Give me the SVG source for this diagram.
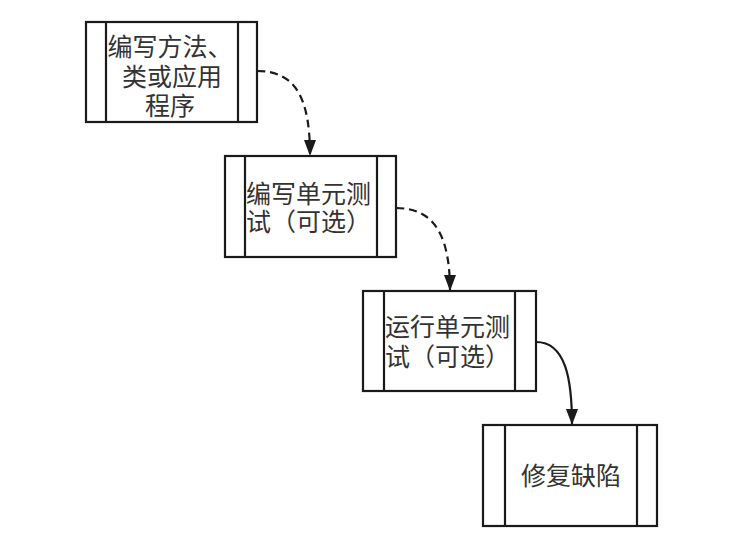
<svg xmlns="http://www.w3.org/2000/svg" width="730" height="544" viewBox="0 0 730 544">
<style>
.box{fill:#fff;stroke:#1a1a1a;stroke-width:2.2}
.bar{stroke:#1a1a1a;stroke-width:2.2}
.t{font-family:"Liberation Sans","Noto Sans CJK SC",sans-serif;font-size:25px;fill:#333}
.c{fill:none;stroke:#1a1a1a;stroke-width:2.2}
.d{stroke-dasharray:8 5}
</style>
<defs>
<marker id="a" viewBox="0 0 16 12" refX="16" refY="6" markerWidth="16" markerHeight="12" markerUnits="userSpaceOnUse" orient="auto">
<path d="M0,0 L16,6 L0,12 Z" fill="#1a1a1a"/>
</marker>
</defs>
<rect width="730" height="544" fill="#fff"/>
<g id="connectors">
<path class="c d" d="M257,71 C297,71 310,100 310,156" marker-end="url(#a)"/>
<path class="c d" d="M396,208 C437,208 450,240 450,291" marker-end="url(#a)"/>
<path class="c" d="M536,342 C566,342 572,380 572,425" marker-end="url(#a)"/>
</g>
<g id="n1">
<rect class="box" x="86" y="22" width="171" height="100"/>
<line class="bar" x1="106" y1="22" x2="106" y2="122"/>
<line class="bar" x1="238" y1="22" x2="238" y2="122"/>
<text class="t" x="170" y="56" text-anchor="middle">编写方法、</text>
<text class="t" x="172" y="86" text-anchor="middle">类或应用</text>
<text class="t" x="170" y="115" text-anchor="middle">程序</text>
</g>
<g id="n2">
<rect class="box" x="225" y="156" width="171" height="101"/>
<line class="bar" x1="245" y1="156" x2="245" y2="257"/>
<line class="bar" x1="377" y1="156" x2="377" y2="257"/>
<text class="t" x="246" y="203">编写单元测</text>
<text class="t" x="246" y="231">试（可选）</text>
</g>
<g id="n3">
<rect class="box" x="363" y="291" width="173" height="100"/>
<line class="bar" x1="384" y1="291" x2="384" y2="391"/>
<line class="bar" x1="515" y1="291" x2="515" y2="391"/>
<text class="t" x="385" y="336">运行单元测</text>
<text class="t" x="385" y="366">试（可选）</text>
</g>
<g id="n4">
<rect class="box" x="483" y="425" width="174" height="101"/>
<line class="bar" x1="505" y1="425" x2="505" y2="526"/>
<line class="bar" x1="637" y1="425" x2="637" y2="526"/>
<text class="t" x="571" y="485" text-anchor="middle">修复缺陷</text>
</g>
</svg>
